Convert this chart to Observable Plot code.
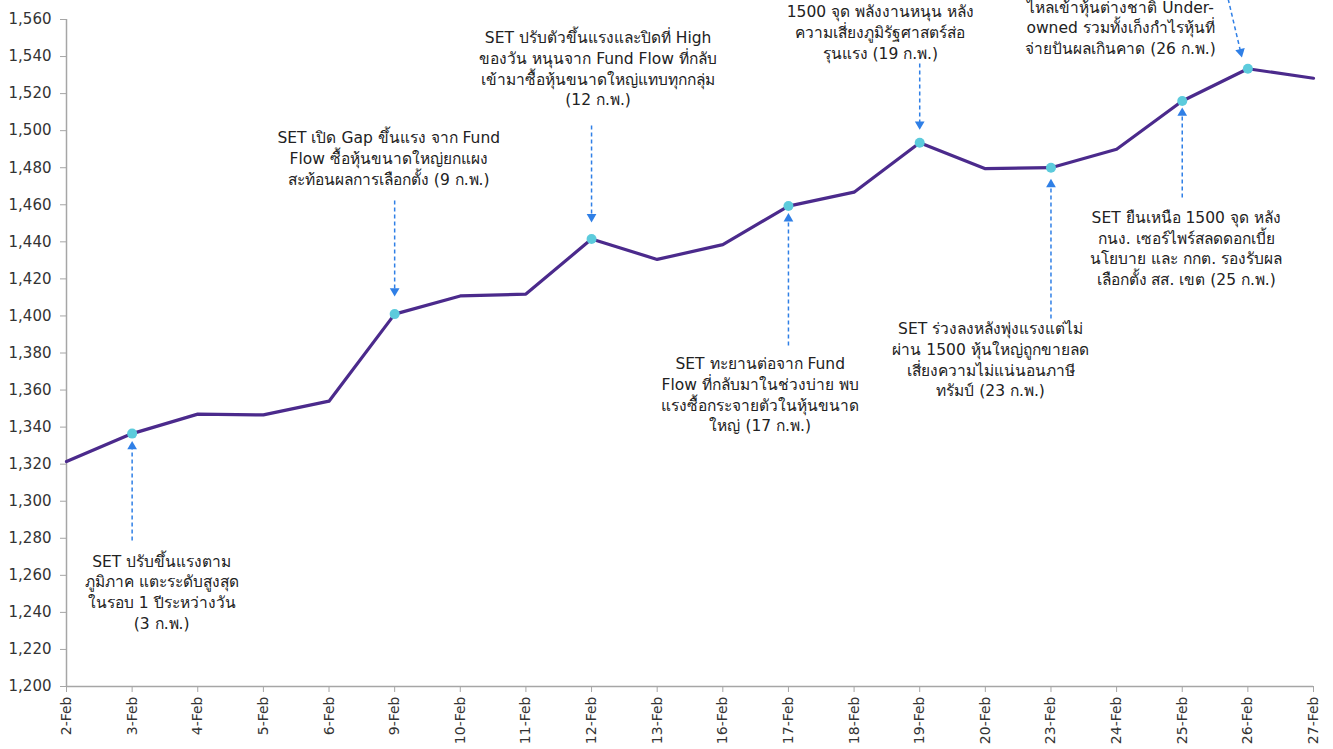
<!DOCTYPE html>
<html><head><meta charset="utf-8">
<script src="https://cdn.jsdelivr.net/npm/d3@7"></script>
<script src="https://cdn.jsdelivr.net/npm/@observablehq/plot@0.6"></script>
<style>
html,body{margin:0;padding:0;background:#fff;overflow:hidden;}
</style>
</head><body><div id="chart"></div>
<script>
const dates = ["2-Feb","3-Feb","4-Feb","5-Feb","6-Feb","9-Feb","10-Feb","11-Feb","12-Feb","13-Feb","16-Feb","17-Feb","18-Feb","19-Feb","20-Feb","23-Feb","24-Feb","25-Feb","26-Feb","27-Feb"];
const setIndex = [1321.4,1336.5,1347.0,1346.6,1354.0,1401.0,1410.8,1411.8,1441.5,1430.5,1438.5,1459.3,1466.8,1493.5,1479.5,1480.0,1490.0,1516.0,1533.4,1528.3];
const yTicks = d3.range(1200, 1561, 20);

const annDates = ["3-Feb","9-Feb","12-Feb","17-Feb","19-Feb","23-Feb","25-Feb","26-Feb"];
const annTexts = [
  "SET ปรับขึ้นแรงตาม\nภูมิภาค แตะระดับสูงสุด\nในรอบ 1 ปีระหว่างวัน\n(3 ก.พ.)",
  "SET เปิด Gap ขึ้นแรง จาก Fund\nFlow ซื้อหุ้นขนาดใหญ่ยกแผง\nสะท้อนผลการเลือกตั้ง (9 ก.พ.)",
  "SET ปรับตัวขึ้นแรงและปิดที่ High\nของวัน หนุนจาก Fund Flow ที่กลับ\nเข้ามาซื้อหุ้นขนาดใหญ่แทบทุกกลุ่ม\n(12 ก.พ.)",
  "SET ทะยานต่อจาก Fund\nFlow ที่กลับมาในช่วงบ่าย พบ\nแรงซื้อกระจายตัวในหุ้นขนาด\nใหญ่ (17 ก.พ.)",
  "1500 จุด พลังงานหนุน หลัง\nความเสี่ยงภูมิรัฐศาสตร์ส่อ\nรุนแรง (19 ก.พ.)",
  "SET ร่วงลงหลังพุ่งแรงแต่ไม่\nผ่าน 1500 หุ้นใหญ่ถูกขายลด\nเสี่ยงความไม่แน่นอนภาษี\nทรัมป์ (23 ก.พ.)",
  "SET ยืนเหนือ 1500 จุด หลัง\nกนง. เซอร์ไพร์สลดดอกเบี้ย\nนโยบาย และ กกต. รองรับผล\nเลือกตั้ง สส. เขต (25 ก.พ.)",
  "ไหลเข้าหุ้นต่างชาติ Under-\nowned รวมทั้งเก็งกำไรหุ้นที่\nจ่ายปันผลเกินคาด (26 ก.พ.)"
];
// top of first text line (index value) and horizontal offset (in days) of each note
const annTextTop = [1272.5, 1501.0, 1555.0, 1379.0, 1569.0, 1398.0, 1458.0, 1571.5];
const annDx = [0.45, -0.09, 0.1, -0.43, -0.6, -0.92, 0.06, -1.94];
// arrow start and tip (index value); x offsets (in days) for the slanted arrow
const arrowFrom = [1278.8, 1462.3, 1502.8, 1384.0, 1536.2, 1398.6, 1463.9, 1571.0];
const arrowTip  = [1329.5, 1413.5, 1453.5, 1452.5, 1503.5, 1471.0, 1509.5, 1542.5];
const arrowFromShift = [0, 0, 0, 0, 0, 0, 0, -0.3];
const arrowTipShift  = [0, 0, 0, 0, 0, 0, 0, -0.11];

const series = dates.map((d, i) => ({i, d, v: setIndex[i]}));
const notes = annDates.map((d, k) => {
  const i = dates.indexOf(d);
  return {i, text: annTexts[k], top: annTextTop[k], tx: i + annDx[k],
    x1: i + arrowFromShift[k], x2: i + arrowTipShift[k], y1: arrowFrom[k], y2: arrowTip[k],
    slanted: arrowFromShift[k] !== 0, v: setIndex[i]};
});

const FONT = "Tahoma, Verdana, 'DejaVu Sans', 'Noto Sans', sans-serif";
const BLUE = "#2f7fe6";

const chart = Plot.plot({
  width: 1333,
  height: 749,
  marginTop: 19,
  marginBottom: 63,
  marginLeft: 66,
  marginRight: 20,
  style: {fontFamily: FONT, background: "#fff"},
  x: {type: "linear", domain: [0, dates.length - 1]},
  y: {domain: [1200, 1560]},
  marks: [
    Plot.ruleX([0], {stroke: "#a6a6a6", strokeWidth: 1.5}),
    Plot.ruleY([1200], {stroke: "#a6a6a6", strokeWidth: 1.5}),
    Plot.axisY({ticks: yTicks, tickFormat: d3.format(","), tickSize: 6, tickPadding: 9, fontSize: 15, color: "#333", stroke: "#a6a6a6", label: null}),
    Plot.axisX({ticks: d3.range(dates.length), tickFormat: i => dates[i], tickSize: 6, tickPadding: 4, tickRotate: -90, fontSize: 14, color: "#333", stroke: "#a6a6a6", label: null}),
    Plot.line(series, {x: "i", y: "v", stroke: "#4b2a8c", strokeWidth: 3.2}),
    Plot.link(notes, {x1: "x1", y1: "y1", x2: "x2", y2: "y2", stroke: BLUE, strokeWidth: 1.5, strokeDasharray: "4,3"}),
    Plot.dot(notes, {x: "x2", y: "y2", symbol: "triangle", r: 3.6, fill: BLUE, stroke: "none",
      rotate: d => d.slanted ? 167 : (d.y1 < d.y2 ? 0 : 180)}),
    Plot.dot(notes, {x: "i", y: "v", r: 5, fill: "#5ccbdc", stroke: "none"}),
    Plot.text(notes, {x: "tx", y: "top", text: "text", lineAnchor: "top", lineHeight: 1.33, fontSize: 15.5, fill: "#222", textAnchor: "middle"})
  ]
});
document.getElementById("chart").appendChild(chart);
</script>
</body></html>
